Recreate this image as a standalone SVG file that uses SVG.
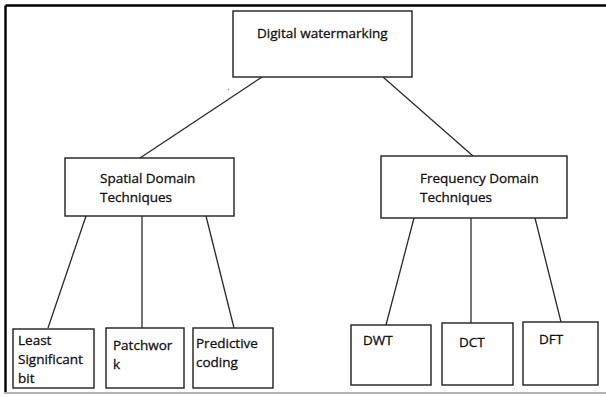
<svg xmlns="http://www.w3.org/2000/svg" width="606" height="397" viewBox="0 0 606 397">
  <style>
    .box { fill: #ffffff; stroke: #1e1e1e; stroke-width: 1.4; }
    .link { stroke: #2a2a2a; stroke-width: 1.3; fill: none; }
    .lbl { font-family: "Open Sans", "Liberation Sans", sans-serif; font-size: 13.5px; fill: #111111; stroke: #111111; stroke-width: 0.3; }
  </style>

  <rect width="606" height="397" fill="#ffffff"/>

  <!-- outer frame: heavy top and left rules, light bottom rule -->
  <g id="frame">
    <line x1="5.5" y1="5.5" x2="606" y2="5.5" stroke="#000000" stroke-width="2.4"/>
    <line x1="5.5" y1="5.5" x2="5.5" y2="392" stroke="#000000" stroke-width="2.4"/>
    <line x1="4" y1="393" x2="606" y2="393" stroke="#9a9a9a" stroke-width="1.5"/>
  </g>

  <!-- connectors -->
  <g id="connectors">
    <line class="link" x1="262" y1="77" x2="140" y2="158"/>
    <line class="link" x1="383" y1="77" x2="473" y2="156"/>
    <line class="link" x1="86" y1="216" x2="48" y2="328"/>
    <line class="link" x1="142" y1="216" x2="142" y2="328"/>
    <line class="link" x1="206" y1="216" x2="234" y2="328"/>
    <line class="link" x1="414" y1="218" x2="386" y2="325"/>
    <line class="link" x1="471" y1="218" x2="471" y2="323"/>
    <line class="link" x1="535" y1="218" x2="561" y2="322"/>
  </g>

  <circle cx="228.5" cy="89.5" r="0.7" fill="#777777"/>

  <g id="digital-watermarking">
    <rect class="box" x="233" y="11" width="179" height="66"/>
    <text class="lbl" x="257" y="38">Digital watermarking</text>
  </g>

  <g id="spatial-domain">
    <rect class="box" x="65" y="158" width="169" height="58"/>
    <text class="lbl" x="100" y="183">Spatial Domain</text>
    <text class="lbl" x="100" y="202">Techniques</text>
  </g>

  <g id="frequency-domain">
    <rect class="box" x="381" y="156" width="186" height="62"/>
    <text class="lbl" x="420" y="183">Frequency Domain</text>
    <text class="lbl" x="420" y="202">Techniques</text>
  </g>

  <g id="lsb">
    <rect class="box" x="13" y="329" width="81" height="59"/>
    <text class="lbl" x="18" y="345">Least</text>
    <text class="lbl" x="18" y="364">Significant</text>
    <text class="lbl" x="18" y="383">bit</text>
  </g>

  <g id="patchwork">
    <rect class="box" x="106" y="328" width="78" height="60"/>
    <text class="lbl" x="113" y="350">Patchwor</text>
    <text class="lbl" x="113" y="369">k</text>
  </g>

  <g id="predictive-coding">
    <rect class="box" x="193" y="328" width="80" height="60"/>
    <text class="lbl" x="196" y="348">Predictive</text>
    <text class="lbl" x="196" y="367">coding</text>
  </g>

  <g id="dwt">
    <rect class="box" x="351" y="325" width="80" height="60"/>
    <text class="lbl" x="363" y="345">DWT</text>
  </g>

  <g id="dct">
    <rect class="box" x="442" y="323" width="71" height="62"/>
    <text class="lbl" x="459" y="347">DCT</text>
  </g>

  <g id="dft">
    <rect class="box" x="523" y="322" width="75" height="63"/>
    <text class="lbl" x="539" y="344">DFT</text>
  </g>
</svg>
